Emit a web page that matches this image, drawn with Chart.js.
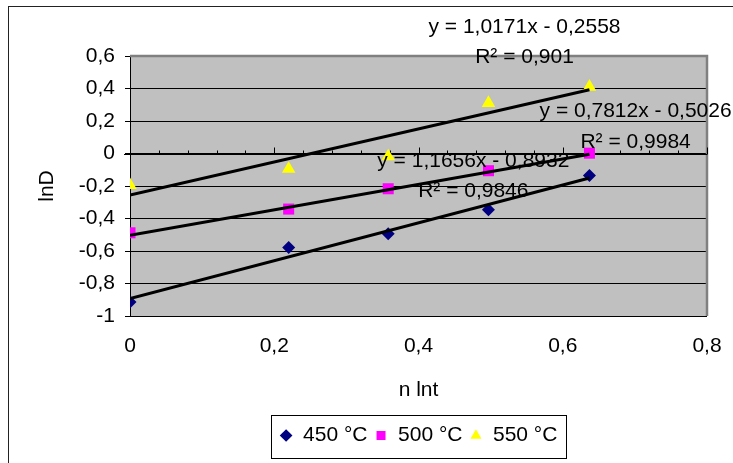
<!DOCTYPE html>
<html>
<head>
<meta charset="utf-8">
<script src="https://cdn.jsdelivr.net/npm/chart.js@4"></script>
<style>
  html, body { margin: 0; padding: 0; background: #fff; }
  canvas { display: block; }
</style>
</head>
<body>
<canvas id="chart" width="733" height="463"></canvas>
<script>
// n lnt values (same for all three temperatures)
const xValues = [0, 0.22, 0.358, 0.497, 0.637];

const seriesLabels = ['450 °C', '500 °C', '550 °C'];
const lnD450 = [-0.914, -0.578, -0.494, -0.346, -0.135];
const lnD500 = [-0.488, -0.342, -0.217, -0.106, 0.002];
const lnD550 = [-0.195, -0.095, -0.018, 0.31, 0.41];

// linear trendlines as printed on the chart
const slopes = [1.1656, 0.7812, 1.0171];
const intercepts = [-0.8932, -0.5026, -0.2558];
const eqTexts = ['y = 1,1656x - 0,8932', 'y = 0,7812x - 0,5026', 'y = 1,0171x - 0,2558'];
const r2Texts = ['R² = 0,9846', 'R² = 0,9984', 'R² = 0,901'];

const xTicksMin = 0, xTicksMax = 0.8;
const yTicksMin = -1, yTicksMax = 0.6;

// where Excel put the equation boxes (data coords of the text centres)
const eqPlacement = [
    { x: 0.476, yEq: -0.05, yR2: -0.229 },
    { x: 0.701, yEq: 0.263, yR2: 0.072 },
    { x: 0.547, yEq: 0.78,  yR2: 0.595 },
];

const FONT = "'Liberation Sans', Arial, sans-serif";
const FS = 21;
Chart.defaults.font.family = FONT;
Chart.defaults.font.size = FS;
Chart.defaults.color = '#000';

const fmt = v => String(Math.round(v * 10) / 10).replace('.', ',');

const markers = [
    { style: 'rectRot',  color: '#000080', radius: 6.5 },
    { style: 'rect',     color: '#ff00ff', radius: 7.8 },
    { style: 'triangle', color: '#ffff00', radius: 7.8 },
];
const allY = [lnD450, lnD500, lnD550];

const pointSets = allY.map((ys, i) => ({
    label: seriesLabels[i],
    data: xValues.map((x, j) => ({ x: x, y: ys[j] })),
    pointStyle: markers[i].style,
    pointRadius: markers[i].radius,
    backgroundColor: markers[i].color,
    borderColor: markers[i].color,
    borderWidth: 0,
    showLine: false,
    order: 2,
}));

const xLast = xValues[xValues.length - 1];
const trendSets = slopes.map((m, i) => ({
    label: 'trend ' + seriesLabels[i],
    data: [
        { x: xValues[0], y: m * xValues[0] + intercepts[i] },
        { x: xLast, y: m * xLast + intercepts[i] },
    ],
    showLine: true,
    borderColor: '#000',
    borderWidth: 3,
    pointRadius: 0,
    order: 1,
}));

const excelLook = {
    id: 'excelLook',
    beforeDraw(chart) {
        const { ctx, chartArea: a } = chart;
        ctx.save();
        ctx.fillStyle = '#c0c0c0';
        ctx.fillRect(a.left, a.top, a.right - a.left, a.bottom - a.top);
        ctx.strokeStyle = '#222';
        ctx.lineWidth = 1;
        ctx.strokeRect(8.5, 6.5, chart.width, chart.height);
        ctx.restore();
    },
    beforeDatasetsDraw(chart) {
        const { ctx, chartArea: a, scales } = chart;
        ctx.save();
        // gray frame top / right
        ctx.strokeStyle = '#808080';
        ctx.lineWidth = 2.5;
        ctx.beginPath();
        ctx.moveTo(a.left, a.top);
        ctx.lineTo(a.right, a.top);
        ctx.lineTo(a.right, a.bottom);
        ctx.stroke();

        // x axis crosses at lnD = 0
        const y0 = Math.round(scales.y.getPixelForValue(0)) + 0.5;
        ctx.strokeStyle = '#000';
        ctx.lineWidth = 1;
        ctx.beginPath();
        ctx.moveTo(a.left - 6, y0);
        ctx.lineTo(a.right, y0);
        for (let k = 0; k <= 20; k++) {
            const v = xTicksMin + k * 0.04;
            const px = Math.round(scales.x.getPixelForValue(v)) + 0.5;
            const len = k % 5 === 0 ? 7 : 4;
            ctx.moveTo(px, y0);
            ctx.lineTo(px, y0 - len);
        }
        ctx.stroke();
        ctx.restore();
    },
    afterDraw(chart) {
        const { ctx, scales } = chart;
        ctx.save();
        ctx.fillStyle = '#000';
        ctx.font = FS + 'px ' + FONT;
        ctx.textAlign = 'center';
        ctx.textBaseline = 'middle';
        eqPlacement.forEach((p, i) => {
            const px = scales.x.getPixelForValue(p.x);
            ctx.fillText(eqTexts[i], px, scales.y.getPixelForValue(p.yEq));
            ctx.fillText(r2Texts[i], px, scales.y.getPixelForValue(p.yR2));
        });

        // legend frame
        const boxes = chart.legend.legendHitBoxes;
        if (boxes && boxes.length) {
            const first = boxes[0], last = boxes[boxes.length - 1];
            const left = Math.round(first.left) - 8.5;
            const right = Math.round(last.left + last.width) + 9.5;
            const top = Math.round(first.top) - 9.5;
            const bottom = Math.round(first.top + first.height) + 12.5;
            ctx.strokeStyle = '#000';
            ctx.lineWidth = 1;
            ctx.strokeRect(left, top, right - left, bottom - top);
        }
        ctx.restore();
    }
};

new Chart(document.getElementById('chart'), {
    type: 'scatter',
    data: { datasets: [...pointSets, ...trendSets] },
    options: {
        responsive: false,
        animation: false,
        devicePixelRatio: 1,
        layout: { padding: { top: 56, right: 26, bottom: 7, left: 0 } },
        plugins: {
            tooltip: { enabled: false },
            legend: {
                position: 'bottom',
                fullSize: false,
                labels: {
                    usePointStyle: true,
                    boxWidth: 13,
                    boxHeight: 9,
                    padding: 7,
                    color: '#000',
                    font: { size: FS },
                    filter: item => item.datasetIndex < seriesLabels.length,
                }
            }
        },
        scales: {
            x: {
                type: 'linear',
                min: xTicksMin,
                max: xTicksMax,
                afterFit: s => { s.height = 102; },
                ticks: {
                    stepSize: 0.2,
                    padding: 0,
                    maxRotation: 0,
                    callback: v => fmt(v),
                },
                // invisible tick marks only push the labels down
                grid: { display: false, drawTicks: true, tickLength: 18 },
                border: { display: false },
                title: { display: true, text: 'n lnt', padding: { top: 0, bottom: 15 } },
            },
            y: {
                type: 'linear',
                min: yTicksMin,
                max: yTicksMax,
                afterFit: s => { s.width = 130; },
                ticks: {
                    stepSize: 0.2,
                    padding: 10,
                    callback: v => fmt(v),
                },
                grid: { color: '#000', lineWidth: 1, tickLength: 5, tickColor: '#000' },
                border: { display: true, color: '#000', width: 1 },
                title: { display: true, text: 'lnD', padding: { top: 35, bottom: 0 } },
            }
        }
    },
    plugins: [excelLook]
});
</script>
</body>
</html>
